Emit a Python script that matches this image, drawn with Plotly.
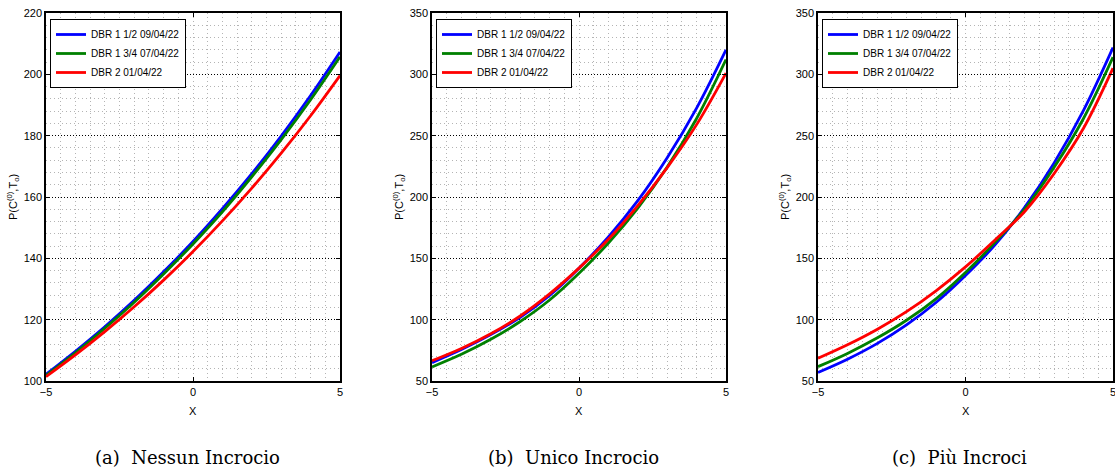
import plotly.graph_objects as go
from plotly.subplots import make_subplots

x_vals = [-5, -4, -3, -2, -1, 0, 1, 2, 3, 4, 5]
series_names = ["DBR 1 1/2 09/04/22", "DBR 1 3/4 07/04/22", "DBR 2 01/04/22"]
series_colors = ["#0000ff", "#008000", "#ff0000"]

# (a) Nessun Incrocio
a_blue = [102.2, 109.7, 117.7, 126.3, 135.6, 145.5, 156.2, 167.6, 179.9, 193.1, 207.3]
a_green = [101.8, 109.2, 117.2, 125.7, 134.9, 144.7, 155.2, 166.6, 178.7, 191.7, 205.7]
a_red = [101.4, 108.5, 116.1, 124.2, 132.9, 142.2, 152.2, 162.9, 174.3, 186.5, 199.6]

# (b) Unico Incrocio
b_blue = [65.0, 75.6, 87.8, 102.0, 119.8, 142.0, 167.5, 197.0, 232.0, 272.5, 320.0]
b_green = [61.5, 71.8, 84.0, 98.5, 116.0, 137.8, 162.5, 191.0, 224.5, 264.0, 312.0]
b_red = [66.5, 76.5, 88.5, 103.0, 121.0, 142.0, 165.5, 193.0, 224.0, 259.0, 301.0]

# (c) Più Incroci
c_blue = [57.0, 67.8, 80.5, 95.8, 114.0, 136.0, 161.0, 191.4, 227.6, 270.6, 321.8]
c_green = [61.7, 72.5, 85.0, 99.5, 117.0, 138.5, 163.0, 190.0, 224.0, 264.0, 314.0]
c_red = [68.5, 79.5, 92.0, 106.5, 123.5, 143.0, 165.0, 188.0, 219.0, 256.0, 305.0]

panels = [
    ([a_blue, a_green, a_red], [100, 220], 20, 4, "(a)  Nessun Incrocio"),
    ([b_blue, b_green, b_red], [50, 350], 50, 10, "(b)  Unico Incrocio"),
    ([c_blue, c_green, c_red], [50, 350], 50, 10, "(c)  Più Incroci"),
]

W, H = 1115, 471
x_px = [(46, 340), (432, 726), (818, 1113)]
y_top, y_bot = 13, 381

fig = make_subplots(rows=1, cols=3)
sans = "Liberation Sans Narrow, Arial Narrow, Liberation Sans, Arial"
tick_font = dict(family=sans, size=11, color="black")
minor_grid = "#b4b4b4"

for i, (series, yr, ydt, ymdt, caption) in enumerate(panels):
    legend_name = "legend" if i == 0 else f"legend{i+1}"
    for vals, name, col in zip(series, series_names, series_colors):
        fig.add_trace(
            go.Scatter(x=x_vals, y=vals, mode="lines", name=name,
                       line=dict(color=col, width=2.8, shape="spline", smoothing=1.0),
                       legend=legend_name, showlegend=True),
            row=1, col=i + 1)
    x0, x1 = x_px[i]
    xa = "xaxis" if i == 0 else f"xaxis{i+1}"
    ya = "yaxis" if i == 0 else f"yaxis{i+1}"
    fig.layout[xa].update(
        domain=[x0 / W, x1 / W], range=[-5, 5], dtick=5, tick0=-5,
        showline=True, linecolor="black", linewidth=1.5, mirror="ticks",
        ticks="inside", ticklen=4, tickcolor="black", tickfont=tick_font,
        ticklabeloverflow="allow",
        showgrid=True, gridcolor=minor_grid, griddash="1px,3px", gridwidth=1,
        zeroline=False, automargin=False,
        minor=dict(dtick=0.5, tick0=-5, showgrid=True, gridcolor=minor_grid,
                   griddash="1px,3px", gridwidth=1, ticks=""),
    )
    fig.layout[ya].update(
        domain=[1 - y_bot / H, 1 - y_top / H], range=yr, dtick=ydt, tick0=yr[0],
        showline=True, linecolor="black", linewidth=1.5, mirror="ticks",
        ticks="inside", ticklen=4, tickcolor="black", tickfont=tick_font,
        ticklabeloverflow="allow",
        showgrid=True, gridcolor="#000000", griddash="1px,2px", gridwidth=1,
        zeroline=False, automargin=False,
        minor=dict(dtick=ymdt, tick0=yr[0], showgrid=True, gridcolor=minor_grid,
                   griddash="1px,3px", gridwidth=1, ticks=""),
    )
    fig.layout[legend_name] = dict(
        x=(x0 + 4) / W, y=1 - (y_top + 6) / H, xanchor="left", yanchor="top",
        bgcolor="white", bordercolor="black", borderwidth=1,
        font=dict(family=sans, size=10, color="black"),
        tracegroupgap=0, itemwidth=30,
    )
    cx = (x0 + x1) / 2
    fig.add_annotation(x=cx / W, y=1 - 411 / H, xref="paper", yref="paper",
                       text="X", showarrow=False, font=tick_font,
                       xanchor="center", yanchor="middle")
    fig.add_annotation(x=(x0 - 33) / W, y=1 - 197 / H, xref="paper", yref="paper",
                       text="P(C<sup>(0)</sup>,T<sub>o</sub>)", showarrow=False,
                       textangle=-90, font=tick_font,
                       xanchor="center", yanchor="middle")
    fig.add_annotation(x=(cx - 6) / W, y=1 - 457 / H, xref="paper", yref="paper",
                       text=caption, showarrow=False,
                       font=dict(family="DejaVu Serif, Liberation Serif, serif", size=18, color="black"),
                       xanchor="center", yanchor="middle")

fig.update_layout(
    width=W, height=H, margin=dict(l=0, r=0, t=0, b=0, autoexpand=False),
    paper_bgcolor="white", plot_bgcolor="white",
)

fig.write_html("out.html", config={"displayModeBar": False},
               post_script="document.body.style.margin='0';document.body.style.overflow='hidden';")
